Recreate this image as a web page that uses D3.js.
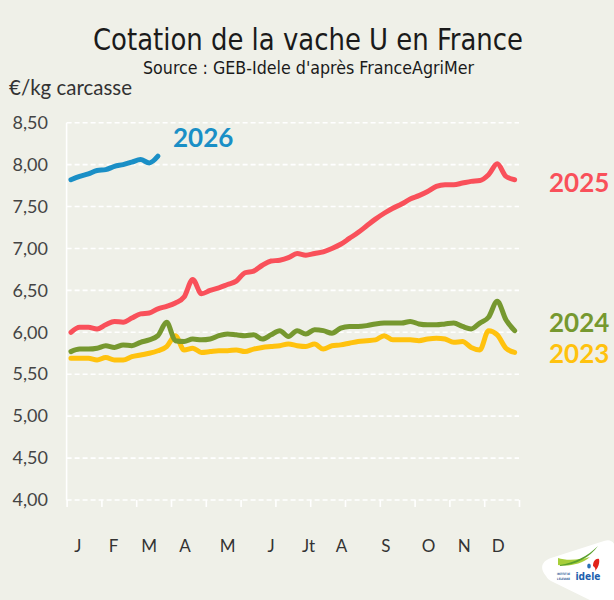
<!DOCTYPE html>
<html>
<head>
<meta charset="utf-8">
<script src="https://cdn.jsdelivr.net/npm/d3@7"></script>
<style>
  html, body { margin: 0; padding: 0; background: #eff0e8; }
  svg { display: block; }
</style>
</head>
<body>
<svg id="chart" width="614" height="600"></svg>
<script>
// Weekly price of the U-grade cull cow, €/kg carcass, weeks 1..52
const weeks = d3.range(1, 53);

const values2023 = [5.69, 5.69, 5.69, 5.67, 5.70, 5.67, 5.67, 5.71, 5.73, 5.75, 5.78, 5.83, 5.96,
  5.79, 5.81, 5.76, 5.77, 5.78, 5.78, 5.79, 5.77, 5.80, 5.82, 5.83, 5.84, 5.86,
  5.84, 5.83, 5.86, 5.80, 5.84, 5.85, 5.87, 5.89, 5.90, 5.91, 5.96, 5.91, 5.91,
  5.91, 5.90, 5.92, 5.93, 5.92, 5.88, 5.89, 5.82, 5.79, 6.02, 5.97, 5.81, 5.76];

const values2024 = [5.77, 5.80, 5.80, 5.81, 5.84, 5.82, 5.85, 5.84, 5.88, 5.91, 5.96, 6.12, 5.90,
  5.89, 5.92, 5.91, 5.92, 5.96, 5.98, 5.97, 5.96, 5.97, 5.92, 5.97, 6.02, 5.95,
  6.02, 5.98, 6.03, 6.02, 5.99, 6.05, 6.07, 6.07, 6.08, 6.10, 6.11, 6.11, 6.11,
  6.13, 6.10, 6.09, 6.09, 6.10, 6.11, 6.07, 6.04, 6.11, 6.18, 6.37, 6.15, 6.02];

const values2025 = [6.00, 6.06, 6.06, 6.04, 6.09, 6.13, 6.12, 6.17, 6.22, 6.23, 6.28, 6.31, 6.35,
  6.42, 6.63, 6.46, 6.50, 6.53, 6.57, 6.61, 6.71, 6.73, 6.80, 6.85, 6.86, 6.89,
  6.94, 6.92, 6.94, 6.96, 7.00, 7.05, 7.12, 7.19, 7.27, 7.35, 7.42, 7.48, 7.53,
  7.59, 7.63, 7.68, 7.74, 7.76, 7.76, 7.78, 7.80, 7.81, 7.88, 8.01, 7.86, 7.82];

const values2026 = [7.82, 7.86, 7.89, 7.93, 7.94, 7.98, 8.00, 8.03, 8.06, 8.02, 8.10];

const seriesNames = ["2023", "2024", "2025", "2026"];
const seriesValues = [values2023, values2024, values2025, values2026];
const seriesColors = ["#ffc20e", "#76982f", "#f9505a", "#1a8fc6"];

// y axis ticks (French decimal comma)
const yTicks = [4.0, 4.5, 5.0, 5.5, 6.0, 6.5, 7.0, 7.5, 8.0, 8.5];

// month initials and the week they sit under
const monthLabels = ["J", "F", "M", "A", "M", "J", "Jt", "A", "S", "O", "N", "D"];
const monthWeeks = [1.8, 5.9, 10.0, 14.1, 19.0, 24.0, 28.3, 32.1, 37.2, 42.1, 46.2, 50.1];

const svg = d3.select("#chart");

const x = d3.scaleLinear().domain([0.5, 52.5]).range([66.6, 519]);
const y = d3.scaleLinear().domain([4, 8.5]).range([500, 122.7]);

// background
svg.append("rect").attr("width", 614).attr("height", 600).attr("fill", "#eff0e8");

// titles (condensed lettering)
const condensed = "'DejaVu Sans Condensed', 'Liberation Sans Narrow', 'Noto Sans', sans-serif";
svg.append("text")
  .attr("x", 93).attr("y", 50)
  .attr("font-family", condensed)
  .attr("font-size", 30)
  .attr("textLength", 430)
  .attr("lengthAdjust", "spacingAndGlyphs")
  .attr("fill", "#1a1a1a")
  .text("Cotation de la vache U en France");

svg.append("text")
  .attr("x", 143).attr("y", 74)
  .attr("font-family", condensed)
  .attr("font-size", 18.5)
  .attr("textLength", 331)
  .attr("lengthAdjust", "spacingAndGlyphs")
  .attr("fill", "#1a1a1a")
  .text("Source : GEB-Idele d'après FranceAgriMer");

svg.append("text")
  .attr("x", 9).attr("y", 95)
  .attr("font-family", "Lato, 'Open Sans', sans-serif")
  .attr("font-size", 20.5)
  .attr("fill", "#333")
  .text("€/kg carcasse");

// horizontal dashed gridlines
svg.append("g").selectAll("line")
  .data(yTicks)
  .join("line")
  .attr("x1", x.range()[0]).attr("x2", x.range()[1])
  .attr("y1", d => y(d)).attr("y2", d => y(d))
  .attr("stroke", "#ffffff")
  .attr("stroke-width", 1.6)
  .attr("stroke-dasharray", "5,3");

// vertical axis line
svg.append("line")
  .attr("x1", x.range()[0]).attr("x2", x.range()[0])
  .attr("y1", y(8.5)).attr("y2", y(4))
  .attr("stroke", "#ffffff").attr("stroke-width", 1.6);

// y axis labels
const yAxis = d3.axisLeft(y)
  .tickValues(yTicks)
  .tickSize(0)
  .tickPadding(0)
  .tickFormat(d => d3.format(".2f")(d).replace(".", ","));
const yg = svg.append("g").attr("transform", "translate(48,0)").call(yAxis);
yg.select(".domain").remove();
yg.selectAll("text")
  .attr("font-family", "Lato, 'Open Sans', sans-serif")
  .attr("font-size", 18)
  .attr("fill", "#444");

// x axis ticks every 4 weeks
const xTickVals = d3.range(0.5, 53, 4);
const xAxis = d3.axisBottom(x).tickValues(xTickVals).tickSize(7).tickFormat("");
const xg = svg.append("g").attr("transform", `translate(0,${y(4)})`).call(xAxis);
xg.select(".domain").remove();
xg.selectAll(".tick line").attr("stroke", "#ffffff").attr("stroke-width", 1.6);

// month labels
svg.append("g").selectAll("text")
  .data(monthLabels)
  .join("text")
  .attr("x", (d, i) => x(monthWeeks[i]))
  .attr("y", 552)
  .attr("text-anchor", "middle")
  .attr("font-family", "Lato, 'Open Sans', sans-serif")
  .attr("font-size", 17)
  .attr("fill", "#333")
  .text(d => d);

// series lines
const line = d3.line()
  .x((d, i) => x(weeks[i]))
  .y(d => y(d))
  .curve(d3.curveMonotoneX);

svg.append("g").selectAll("path")
  .data(seriesValues)
  .join("path")
  .attr("d", d => line(d))
  .attr("fill", "none")
  .attr("stroke", (d, i) => seriesColors[i])
  .attr("stroke-width", 5)
  .attr("stroke-linecap", "round")
  .attr("stroke-linejoin", "round");

// series labels
const labelPos = [
  { name: "2023", x: 549, y: 363 },
  { name: "2024", x: 549, y: 332 },
  { name: "2025", x: 549, y: 192 },
  { name: "2026", x: 173, y: 147 }
];
svg.append("g").selectAll("text")
  .data(labelPos)
  .join("text")
  .attr("x", d => d.x).attr("y", d => d.y)
  .attr("font-family", "Lato, 'Open Sans', sans-serif")
  .attr("font-weight", "bold")
  .attr("font-size", 26)
  .attr("fill", d => seriesColors[seriesNames.indexOf(d.name)])
  .text(d => d.name);

// institute logo on its white badge
const logo = svg.append("g");
logo.append("path")
  .attr("d", "M 546 576 C 539 568 542 561 551 558 L 604 541 C 612 538 616 544 616 552 L 616 604 L 598 604 L 551 581 C 549 580 547 578 546 576 Z")
  .attr("fill", "#ffffff");
logo.append("path")
  .attr("d", "M 558 558 C 566 561 580 560 590 557 C 582 564 568 567 558 565 Z")
  .attr("fill", "#a6ce39");
logo.append("path")
  .attr("d", "M 560 565 C 574 563 588 556 598 546 C 590 557 576 565 560 566 Z")
  .attr("fill", "#5aa02c");
logo.append("path")
  .attr("d", "M 593 566 C 593 561 596 558 599 559 C 600 563 598 568 595 571 C 596 569 595 567 593 566 Z")
  .attr("fill", "#e2231a");
logo.append("ellipse").attr("cx", 589).attr("cy", 566).attr("rx", 1.8).attr("ry", 2.6).attr("fill", "#2a6fb5");
logo.append("text")
  .attr("x", 557).attr("y", 575)
  .attr("font-family", "'DejaVu Sans Condensed', sans-serif")
  .attr("font-size", 3)
  .attr("font-weight", "bold")
  .attr("textLength", 13)
  .attr("lengthAdjust", "spacingAndGlyphs")
  .attr("fill", "#1d4f91")
  .text("INSTITUT DE");
logo.append("text")
  .attr("x", 557).attr("y", 579.5)
  .attr("font-family", "'DejaVu Sans Condensed', sans-serif")
  .attr("font-size", 3)
  .attr("font-weight", "bold")
  .attr("textLength", 13)
  .attr("lengthAdjust", "spacingAndGlyphs")
  .attr("fill", "#1d4f91")
  .text("L'ÉLEVAGE");
logo.append("text")
  .attr("x", 575.5).attr("y", 580)
  .attr("font-family", "'DejaVu Sans Condensed', sans-serif")
  .attr("font-size", 10.5)
  .attr("font-weight", "bold")
  .attr("textLength", 25)
  .attr("lengthAdjust", "spacingAndGlyphs")
  .attr("fill", "#1d5fae")
  .text("idele");
</script>
</body>
</html>
